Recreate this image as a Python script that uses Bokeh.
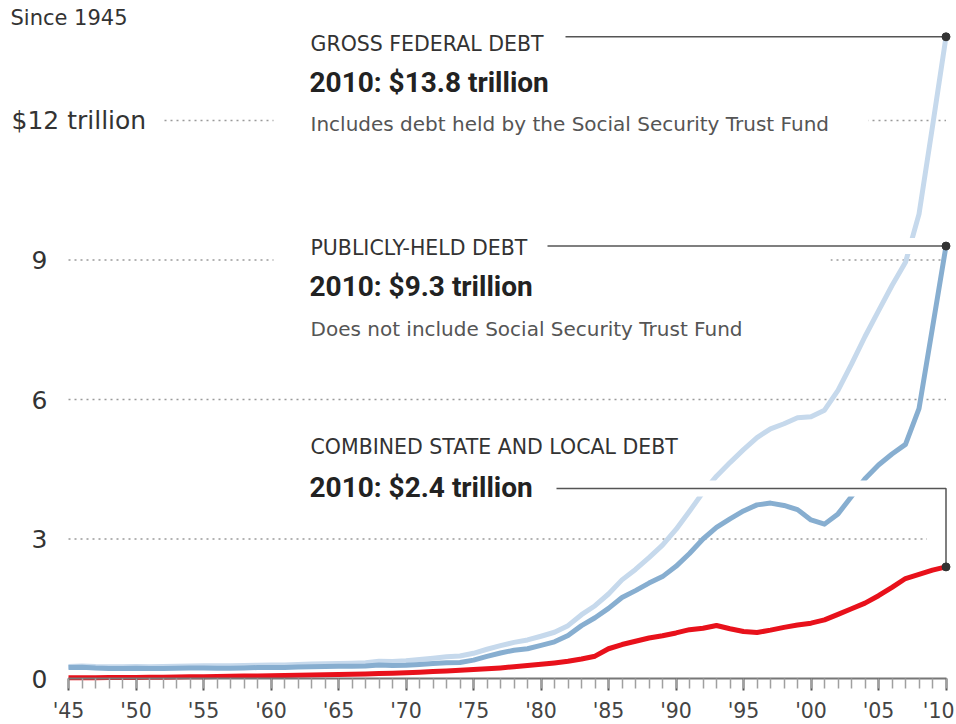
from bokeh.plotting import figure
from bokeh.models import FixedTicker, Label, BoxAnnotation, Range1d
from bokeh.core.properties import value
from bokeh.embed import file_html
from bokeh.resources import INLINE

# ---------------- data (trillions of dollars) ----------------
years = list(range(1945, 2011))

gross_debt = [
    0.26, 0.27, 0.257, 0.252, 0.253,
    0.257, 0.255, 0.259, 0.266, 0.271,
    0.274, 0.273, 0.272, 0.28, 0.287,
    0.291, 0.293, 0.303, 0.311, 0.317,
    0.322, 0.328, 0.34, 0.369, 0.366,
    0.381, 0.408, 0.436, 0.466, 0.484,
    0.542, 0.629, 0.706, 0.777, 0.829,
    0.909, 0.995, 1.137, 1.372, 1.565,
    1.817, 2.121, 2.346, 2.601, 2.868,
    3.206, 3.598, 4.002, 4.351, 4.643,
    4.921, 5.181, 5.369, 5.478, 5.606,
    5.629, 5.77, 6.198, 6.76, 7.355,
    7.905, 8.451, 8.951, 9.986, 11.876,
    13.8]

public_debt = [
    0.235, 0.242, 0.224, 0.216, 0.214,
    0.219, 0.214, 0.215, 0.218, 0.224,
    0.227, 0.222, 0.219, 0.226, 0.235,
    0.237, 0.238, 0.248, 0.254, 0.257,
    0.261, 0.264, 0.267, 0.29, 0.278,
    0.283, 0.303, 0.322, 0.341, 0.344,
    0.395, 0.477, 0.549, 0.607, 0.64,
    0.712, 0.789, 0.925, 1.137, 1.307,
    1.507, 1.741, 1.89, 2.052, 2.191,
    2.412, 2.689, 3.0, 3.248, 3.433,
    3.604, 3.734, 3.772, 3.721, 3.632,
    3.41, 3.32, 3.54, 3.913, 4.296,
    4.592, 4.829, 5.035, 5.803, 7.545,
    9.3]

state_local_debt = [
    0.016, 0.016, 0.017, 0.019, 0.021,
    0.024, 0.026, 0.029, 0.032, 0.036,
    0.04, 0.044, 0.048, 0.052, 0.056,
    0.06, 0.065, 0.07, 0.075, 0.08,
    0.086, 0.092, 0.098, 0.105, 0.113,
    0.124, 0.136, 0.149, 0.162, 0.176,
    0.192, 0.208, 0.228, 0.252, 0.278,
    0.305, 0.335, 0.37, 0.42, 0.48,
    0.64, 0.73, 0.8, 0.87, 0.92,
    0.98, 1.05, 1.08, 1.14, 1.07,
    1.01, 0.99, 1.04, 1.1, 1.15,
    1.19, 1.26, 1.38, 1.5, 1.62,
    1.78, 1.96, 2.15, 2.24, 2.33,
    2.4]

x_tick_years = [1945, 1950, 1955, 1960, 1965, 1970, 1975, 1980,
                1985, 1990, 1995, 2000, 2005, 2010]
x_tick_labels = ["'45", "'50", "'55", "'60", "'65", "'70", "'75", "'80",
                 "'85", "'90", "'95", "'00", "'05", "'10"]
y_tick_values = [0, 3, 6, 9, 12]
y_tick_labels = ["0", "3", "6", "9", "$12 trillion"]

# ---------------- layout helpers (page pixels -> data) ----------------
W, H = 954, 722
PAGE_OFF = 0
X45_PX, PX_PER_YEAR = 68.0, 13.5
Y0_PX, PX_PER_T = 678.0, 46.5


def px2x(px):
    return 1945 + (px - X45_PX) / PX_PER_YEAR


def py2y(py):
    return (Y0_PX - py) / PX_PER_T


FONT = "DejaVu Sans"
BOLD_FONT = "Roboto"
GROSS_C = "#c6d9ec"
PUBLIC_C = "#87aed0"
STATE_C = "#e8111b"
LEADER_C = "#555555"

p = figure(width=W, height=H, output_backend="svg", toolbar_location=None,
           x_range=Range1d(px2x(PAGE_OFF), px2x(PAGE_OFF + W)),
           y_range=Range1d(py2y(PAGE_OFF + H), py2y(PAGE_OFF)),
           y_axis_location=None, min_border=0)
p.min_border_left = 0
p.min_border_right = 0
p.min_border_top = 0
p.min_border_bottom = 0
p.outline_line_color = None
p.grid.visible = False
p.background_fill_color = "white"
p.border_fill_color = "white"

# x axis
ax = p.xaxis[0]
ax.fixed_location = 0
ax.bounds = (years[0], years[-1])
ax.ticker = FixedTicker(ticks=x_tick_years, minor_ticks=years)
ax.major_label_overrides = {y: l for y, l in zip(x_tick_years, x_tick_labels)}
ax.axis_line_color = "#777777"
ax.axis_line_width = 2
ax.major_tick_line_color = "#555555"
ax.major_tick_line_width = 2
ax.major_tick_in = 0
ax.major_tick_out = 12
ax.minor_tick_line_color = "#a0a0a0"
ax.minor_tick_line_width = 1.5
ax.minor_tick_in = 0
ax.minor_tick_out = 10
ax.major_label_standoff = 8
ax.major_label_text_font = FONT
ax.major_label_text_font_size = "20.5px"
ax.major_label_text_color = "#444444"

# dotted gridlines
grid_vals = y_tick_values[1:]
grid = p.segment(x0=[years[0]] * len(grid_vals), x1=[years[-1]] * len(grid_vals),
                 y0=grid_vals, y1=grid_vals, line_color="#9a9a9a",
                 line_width=1.5, line_dash="2 4")
grid.level = "underlay"

# white boxes behind annotation blocks (hide grid lines)
for l, r, t, b in [(273, 868, 26, 140), (273, 830, 234, 344), (0, 161, 106, 134)]:
    p.add_layout(BoxAnnotation(left=px2x(l), right=px2x(r), top=py2y(t), bottom=py2y(b),
                               fill_color="white", fill_alpha=1.0, line_color=None,
                               level="underlay"))

# y tick labels
p.text(x=[px2x(47)] * 4, y=y_tick_values[:4], text=y_tick_labels[:4],
       text_align="right", text_baseline="middle", text_font=value(FONT),
       text_font_size="25px", text_color="#333333")
p.text(x=[px2x(11)], y=[y_tick_values[4]], text=[y_tick_labels[4]],
       text_align="left", text_baseline="middle", text_font=value(FONT),
       text_font_size="25px", text_color="#333333")

# series
p.line(years, gross_debt, line_color=GROSS_C, line_width=5, line_join="round")
p.line(years, public_debt, line_color=PUBLIC_C, line_width=5, line_join="round")
p.line(years, state_local_debt, line_color=STATE_C, line_width=5, line_join="round")

# leader lines with white halos
x_end = years[-1]
g_end, pub_end, s_end = gross_debt[-1], public_debt[-1], state_local_debt[-1]
s_leader_y = py2y(488)

p.line([px2x(565), px2x(930)], [g_end, g_end], line_color="white", line_width=16)
p.line([px2x(547), px2x(930)], [pub_end, pub_end], line_color="white", line_width=16)
p.line([px2x(556), x_end], [s_leader_y, s_leader_y], line_color="white", line_width=16)
p.line([x_end, x_end], [s_leader_y, py2y(548)], line_color="white", line_width=38)

p.line([px2x(565), x_end], [g_end, g_end], line_color=LEADER_C, line_width=1.5)
p.line([px2x(547), x_end], [pub_end, pub_end], line_color=LEADER_C, line_width=1.5)
p.line([px2x(556), x_end, x_end], [s_leader_y, s_leader_y, s_end],
       line_color=LEADER_C, line_width=1.5)

p.scatter([x_end] * 3, [g_end, pub_end, s_end], size=8, color="#333333")


# text annotations
def lab(txt, px, py, size="20px", color="#333333", style="normal", font=FONT):
    p.add_layout(Label(x=px2x(px), y=py2y(py), text=txt, text_font=font,
                       text_font_size=size, text_color=color, text_font_style=style,
                       text_align="left", text_baseline="middle"))


lab("Since 1945", 10, 17, size="21px")
lab("GROSS FEDERAL DEBT", 310, 43, size="20.5px")
lab(f"2010: ${g_end:.1f} trillion", 309, 82, size="28px", color="#222222",
    style="bold", font=BOLD_FONT)
lab("Includes debt held by the Social Security Trust Fund", 310, 123,
    size="20px", color="#555555")
lab("PUBLICLY-HELD DEBT", 310, 247, size="20.5px")
lab(f"2010: ${pub_end:.1f} trillion", 309, 286, size="28px", color="#222222",
    style="bold", font=BOLD_FONT)
lab("Does not include Social Security Trust Fund", 310, 328,
    size="20px", color="#555555")
lab("COMBINED STATE AND LOCAL DEBT", 310, 446, size="20.5px")
lab(f"2010: ${s_end:.1f} trillion", 309, 487, size="28px", color="#222222",
    style="bold", font=BOLD_FONT)

open("out.html", "w").write(file_html(p, INLINE))
